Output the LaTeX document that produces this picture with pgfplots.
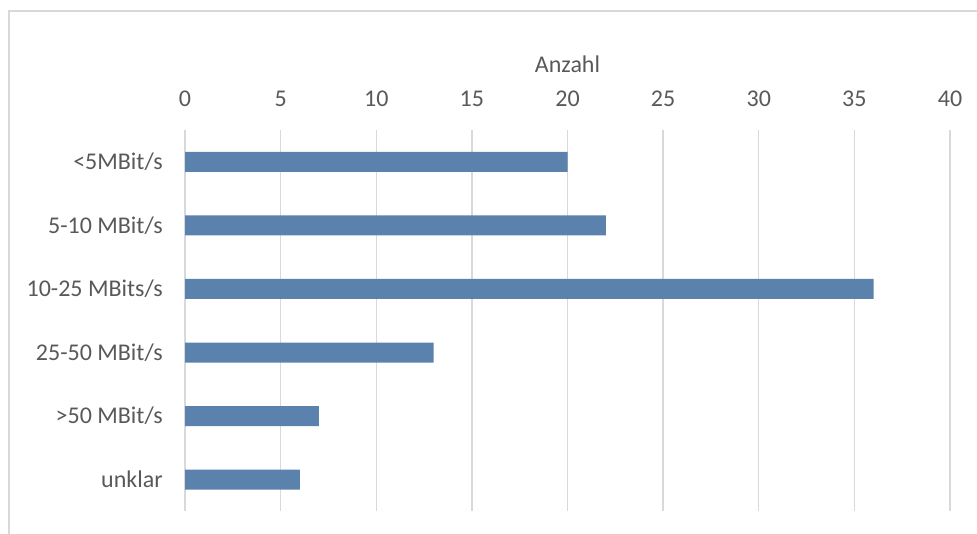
\documentclass[border=0pt]{standalone}
\usepackage{fontspec}
\setmainfont{Carlito}
\usepackage{pgfplots}
\pgfplotsset{compat=1.18}
\definecolor{barblue}{HTML}{5B82AD}
\definecolor{txtgray}{HTML}{595959}
\definecolor{gridgray}{HTML}{D9D9D9}
\begin{document}
\begin{tikzpicture}[x=0.75pt,y=0.75pt]
  \useasboundingbox (0,0) rectangle (977,-534);
  % chart area frame (only the left and top edges lie inside the picture)
  \draw[gridgray, line width=1pt] (9,-534) -- (9,-11) -- (977,-11);
  \begin{axis}[
    at={(138.75pt,-97.5pt)}, anchor=north west,
    scale only axis,
    width=573.75pt, height=286.1pt,
    xbar, bar width=15pt,
    xmin=0, xmax=40,
    xtick={0,5,...,40},
    ymin=-0.5, ymax=5.5, y dir=reverse,
    ytick={0,1,2,3,4,5},
    yticklabels={{<5MBit/s},{5-10 MBit/s},{10-25 MBits/s},{25-50 MBit/s},{>50 MBit/s},{unklar}},
    axis line style={draw=none},
    major tick length=0pt,
    xmajorgrids,
    grid style={gridgray, line width=1pt},
    xticklabel pos=upper,
    /pgf/number format/assume math mode=true,
    tick label style={font=\fontsize{18pt}{21pt}\selectfont, text=txtgray},
    xticklabel style={anchor=base, inner sep=0pt, yshift=17.6pt},
    yticklabel style={anchor=east, inner sep=0pt, xshift=-16.5pt},
    xlabel={Anzahl},
    xlabel style={at={(axis description cs:0.5,1)}, anchor=base, inner sep=0pt,
                  yshift=43.5pt, font=\fontsize{18pt}{21pt}\selectfont, text=txtgray},
  ]
    \addplot[fill=barblue, draw=none] coordinates {
      (20,0) (22,1) (36,2) (13,3) (7,4) (6,5)
    };
  \end{axis}
\end{tikzpicture}
\end{document}
